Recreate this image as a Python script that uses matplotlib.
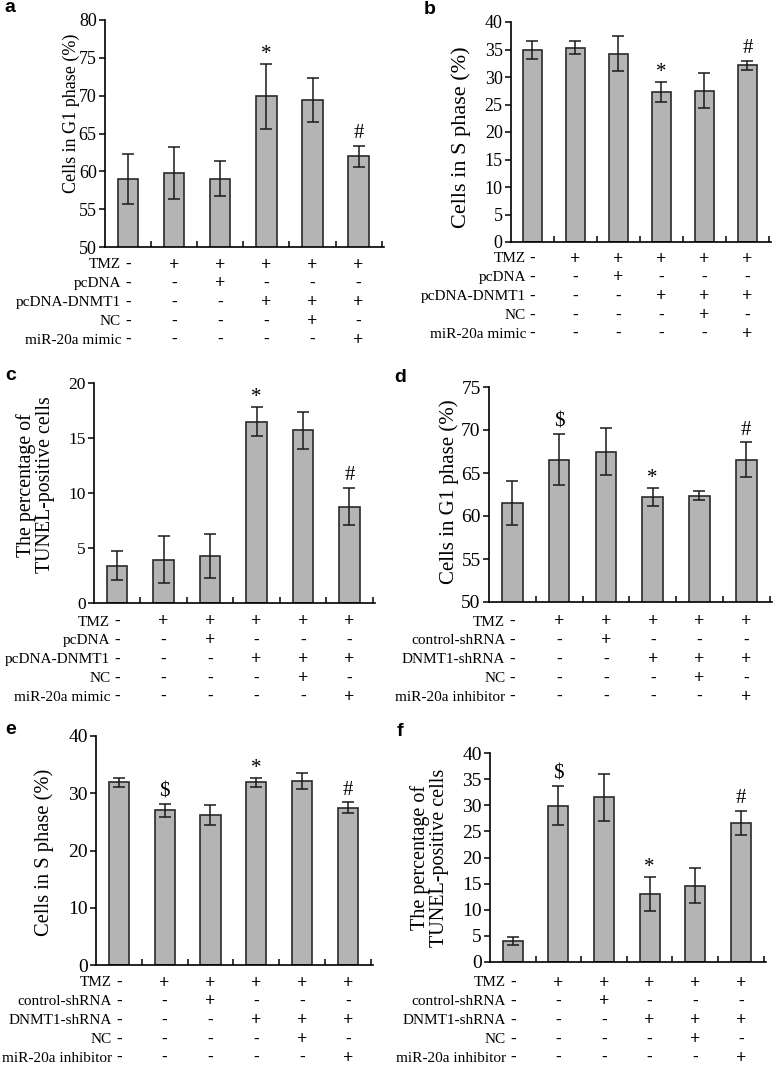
import numpy as np
import matplotlib
matplotlib.use("Agg")
import matplotlib.pyplot as plt
import matplotlib.transforms as mtransforms

plt.rcParams['font.family'] = ['Liberation Serif', 'DejaVu Serif']

W, H = 774, 1066

# ---- data ----
rows_oe = ["TMZ", "pcDNA", "pcDNA-DNMT1", "NC", "miR-20a mimic"]
rows_kd = ["TMZ", "control-shRNA", "DNMT1-shRNA", "NC", "miR-20a inhibitor"]
signs = [["-", "+", "+", "+", "+", "+"],
         ["-", "-", "+", "-", "-", "-"],
         ["-", "-", "-", "+", "+", "+"],
         ["-", "-", "-", "-", "+", "-"],
         ["-", "-", "-", "-", "-", "+"]]

a_mean = [59.0, 59.8, 59.0, 69.9, 69.4, 62.0]
a_err = [3.3, 3.4, 2.3, 4.3, 2.9, 1.4]
a_sig = ["", "", "", "*", "", "#"]

b_mean = [34.9, 35.3, 34.2, 27.3, 27.5, 32.1]
b_err = [1.6, 1.2, 3.2, 1.8, 3.2, 0.9]
b_sig = ["", "", "", "*", "", "#"]

c_mean = [3.4, 3.95, 4.25, 16.5, 15.7, 8.75]
c_err = [1.3, 2.15, 2.0, 1.35, 1.7, 1.7]
c_sig = ["", "", "", "*", "", "#"]

d_mean = [61.55, 66.55, 67.5, 62.2, 62.35, 66.55]
d_err = [2.55, 3.0, 2.7, 1.0, 0.5, 2.0]
d_sig = ["", "$", "", "*", "", "#"]

e_mean = [31.9, 27.0, 26.2, 31.9, 32.2, 27.5]
e_err = [0.8, 1.1, 1.75, 0.8, 1.4, 0.9]
e_sig = ["", "$", "", "*", "", "#"]

f_mean = [4.0, 29.9, 31.5, 13.0, 14.6, 26.6]
f_err = [0.7, 3.7, 4.5, 3.2, 3.4, 2.3]
f_sig = ["", "$", "", "*", "", "#"]

tunel = "The percentage of\nTUNEL-positive cells"
panels = [
    # letter, mean, err, sig, ylim, ystep, ylabel, rows,
    # box(l,t,r,b px), first table row px, letter pos px, tick size, label size, label coords
    ("a", a_mean, a_err, a_sig, (50, 80), 5, "Cells in G1 phase (%)", rows_oe,
     (105, 20, 384, 247), 265, (4, 8), 13, 13, (-0.09, 0.59)),
    ("b", b_mean, b_err, b_sig, (0, 40), 5, "Cells in S phase (%)", rows_oe,
     (511, 22, 771, 242), 259, (424, 9), 13, 16, (-0.155, 0.477)),
    ("c", c_mean, c_err, c_sig, (0, 20), 5, tunel, rows_oe,
     (94, 383, 375, 603), 622, (5, 376), 12.5, 14.3, (-0.14, 0.536)),
    ("d", d_mean, d_err, d_sig, (50, 75), 5, "Cells in G1 phase (%)", rows_kd,
     (489, 387, 772, 602), 622, (394, 377), 14, 15, (-0.105, 0.512)),
    ("e", e_mean, e_err, e_sig, (0, 40), 10, "Cells in S phase (%)", rows_kd,
     (96, 736, 373, 965), 983, (5, 730), 14, 14.8, (-0.15, 0.493)),
    ("f", f_mean, f_err, f_sig, (0, 40), 5, tunel, rows_kd,
     (490, 753, 766, 962), 983, (397, 732), 14, 14.5, (-0.15, 0.498)),
]

fig = plt.figure(figsize=(W / 100, H / 100), dpi=100)

for (letter, mean, err, sig, ylim, ystep, ylabel, rows, box, row0, lpos,
     tsize, lsize, lcoord) in panels:
    l, t, r, b = box
    ax = fig.add_axes([l / W, 1 - b / H, (r - l) / W, (b - t) / H])
    x = np.arange(len(mean))
    ax.bar(x, mean, width=0.44, color='#b4b4b4', edgecolor='#2a2a2a', linewidth=1.2,
           yerr=err, error_kw=dict(ecolor='#1a1a1a', elinewidth=1.1, capsize=4, capthick=1.1),
           zorder=2)
    ax.set_xlim(-0.5, 5.55)
    ax.set_ylim(*ylim)
    ax.set_yticks(np.arange(ylim[0], ylim[1] + 0.1, ystep))
    ax.set_xticks(np.arange(0.5, 6, 1))
    ax.set_xticklabels([])
    ax.tick_params(axis='x', direction='in', length=4, width=1.1)
    ax.tick_params(axis='y', direction='out', length=4, width=1.1, labelsize=tsize, pad=2)
    for s in ['top', 'right']:
        ax.spines[s].set_visible(False)
    for s in ['left', 'bottom']:
        ax.spines[s].set_linewidth(1.2)
    ax.set_ylabel(ylabel, fontsize=lsize, linespacing=0.95)
    ax.yaxis.set_label_coords(*lcoord)

    for xi, m, e, s in zip(x, mean, err, sig):
        if s:
            off = 0 if s == "*" else 2
            ax.annotate(s, (xi, m + e), xytext=(0, off), textcoords='offset points',
                        ha='center', va='bottom', fontsize=15)

    # treatment table below the axis
    tr = mtransforms.blended_transform_factory(ax.transData, fig.transFigure)
    for i, name in enumerate(rows):
        yy = 1 - (row0 + i * 18.8) / H
        ax.text(-0.15, yy, name, transform=tr, ha='right', va='center', fontsize=11,
                clip_on=False)
        for j, sg in enumerate(signs[i]):
            ax.text(j, yy, sg, transform=tr, ha='center', va='center', fontweight='bold',
                    fontsize=13 if sg == "+" else 12, clip_on=False)

    fig.text(lpos[0] / W, 1 - lpos[1] / H, letter, ha='left', va='center',
             fontsize=14, fontweight='bold', family='Liberation Sans')

fig.savefig("out.png", dpi=100)
